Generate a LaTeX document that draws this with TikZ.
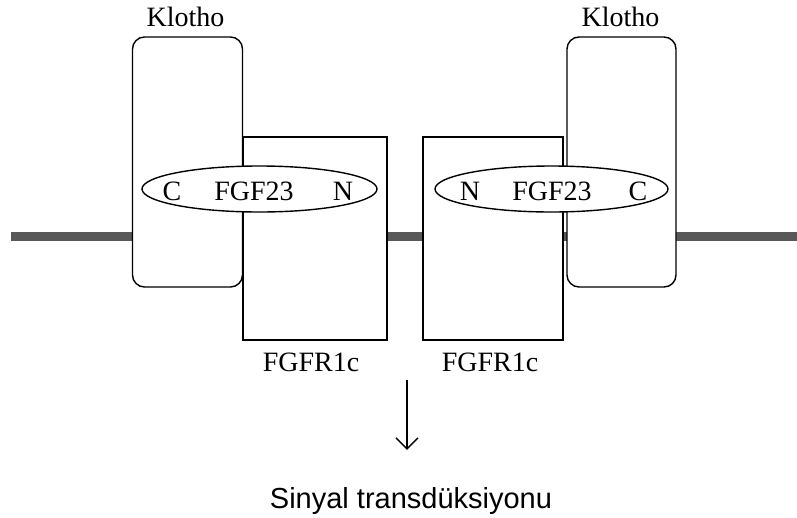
\documentclass[tikz,border=0pt]{standalone}
\usepackage{fontspec}
\setmainfont{Liberation Serif}
\newfontfamily\sigfont{Liberation Sans}
\usepackage{tikz}
\usetikzlibrary{shapes.geometric,arrows.meta,positioning}
\definecolor{membranegray}{RGB}{88,88,88}

\begin{document}
\begin{tikzpicture}[x=1pt,y=-1pt,
  klotho/.style={rectangle,rounded corners=12pt,draw,line width=1.4pt,fill=white,
                 minimum width=110pt,minimum height=250pt},
  rec/.style={rectangle,draw,line width=1.2pt,fill=white,minimum height=203pt},
  lig/.style={ellipse,draw,line width=1.4pt,fill=white,minimum height=46pt,inner sep=0pt},
  lbl/.style={font=\fontsize{28}{32}\selectfont,inner sep=0pt},
  arr/.style={-{Straight Barb[length=11pt,width=22pt]},line width=1.4pt},
  memb/.style={line width=9pt,draw=membranegray}]
  \useasboundingbox (0,0) rectangle (797,517);
  % membrane
  \coordinate (memL) at (11,236.5); \coordinate (memR) at (797,236.5);
  \draw[memb](memL)--(memR);
  % receptors and klotho
  \node[klotho](klL) at (187.5,162){};
  \node[rec,minimum width=144pt](rL) at (315,238.5){};
  \node[rec,minimum width=140pt](rR) at (493,238.5){};
  \node[klotho,minimum width=109pt](klR) at (621.5,162){};
  \node[lbl,above=9pt of klL.north,xshift=-2pt](klLt){Klotho};
  \node[lbl,above=9pt of klR.north,xshift=-1pt](klRt){Klotho};
  \node[lbl,below=12pt of rL.south,xshift=-4pt](rLt){FGFR1c};
  \node[lbl,below=12pt of rR.south,xshift=-3pt](rRt){FGFR1c};
  % FGF23 ligands
  \node[lig,minimum width=235pt](fgfL) at (259.5,189){};
  \node[lig,minimum width=233pt](fgfR) at (551.5,189){};
  \node[lbl](fgfLc) at (172,191){C};
  \node[lbl](fgfLt) at (254,191){FGF23};
  \node[lbl](fgfLn) at (343,191){N};
  \node[lbl](fgfRn) at (470,191){N};
  \node[lbl](fgfRt) at (552,191){FGF23};
  \node[lbl](fgfRc) at (638,191){C};
  % signal
  \coordinate (sig0) at (407,380);
  \node[font=\sigfont\fontsize{29}{34}\selectfont,inner sep=0pt,anchor=base](sig) at (411,508){Sinyal transdüksiyonu};
  \draw[arr,shorten >=37pt](sig0)--(sig0 |- sig.north);
\end{tikzpicture}
\end{document}
